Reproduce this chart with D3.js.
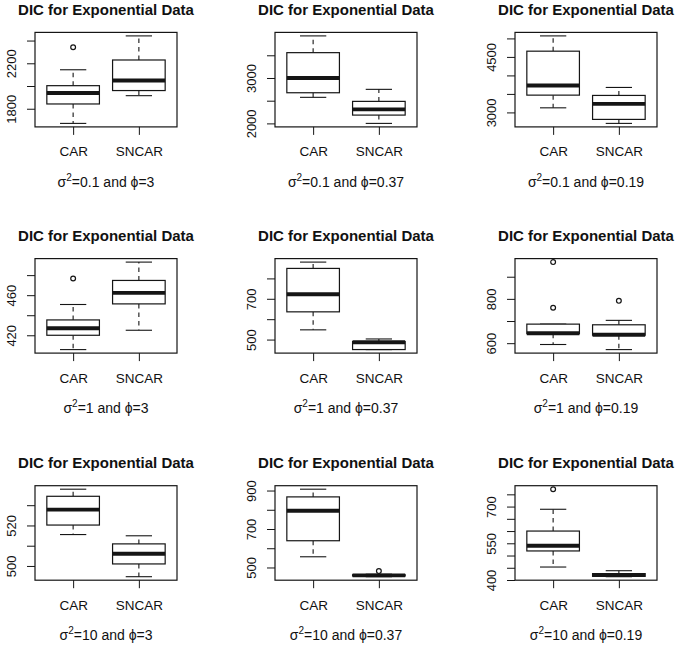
<!DOCTYPE html>
<html>
<head>
<meta charset="utf-8">
<script src="https://cdn.jsdelivr.net/npm/d3@7"></script>
<style>
  html, body { margin: 0; padding: 0; background: #fff; }
  svg text { font-family: "Liberation Sans", Arial, Helvetica, sans-serif; fill: #111; }
</style>
</head>
<body>
<svg id="chart" width="680" height="650"></svg>
<script>
// ---------- data ----------
const groups = ["CAR", "SNCAR"];
const panelTitle = "DIC for Exponential Data";
const sigma2 = ["0.1", "0.1", "0.1", "1", "1", "1", "10", "10", "10"];
const phi    = ["3", "0.37", "0.19", "3", "0.37", "0.19", "3", "0.37", "0.19"];

// [lower whisker, Q1, median, Q3, upper whisker]
const carStats = [
  [1671, 1842, 1939, 2003, 2143],
  [2574, 2675, 3000, 3558, 3927],
  [3124, 3467, 3729, 4655, 5068],
  [405.7, 420, 427, 435.3, 450.7],
  [547.7, 636, 722.6, 849, 880],
  [594, 643, 645, 686, 686],
  [515.5, 520.2, 527.8, 534.4, 537.9],
  [555.6, 639, 795, 867, 907],
  [453, 518.7, 540, 600, 689]
];
const sncarStats = [
  [1915, 1960, 2048, 2229, 2441],
  [2000, 2183, 2309, 2485, 2750],
  [2703, 2811, 3232, 3459, 3675],
  [425, 451.3, 462.3, 474.7, 493],
  [450.8, 451, 487, 490, 503],
  [571, 636, 638, 683, 703],
  [494.7, 501, 506, 510.9, 514.9],
  [452, 456, 459, 462, 465],
  [413.5, 415, 420.5, 426, 438]
];
const carOutliers   = [[2341], [], [], [476.7], [], [760, 966], [], [], [771]];
const sncarOutliers = [[], [], [], [], [], [791], [], [481], []];

const yTicks = [
  [1800, 2000, 2200, 2400],
  [2000, 2500, 3000, 3500],
  [3000, 3500, 4000, 4500, 5000],
  [420, 440, 460, 480],
  [500, 600, 700, 800],
  [600, 700, 800, 900],
  [500, 510, 520, 530],
  [500, 600, 700, 800, 900],
  [400, 450, 500, 550, 600, 650, 700, 750]
];
const yTickLabels = [
  [1800, 2200],
  [2000, 3000],
  [3000, 4500],
  [420, 460],
  [500, 700],
  [600, 800],
  [500, 520],
  [500, 700, 900],
  [400, 550, 700]
];

// ---------- layout ----------
const svg = d3.select("#chart");
const plotW = 142, plotH = 94.5;
const colLeft = [35, 275, 515];
const rowTop = [32.4, 258.6, 485.7];
const ink = "#151515";

for (let i = 0; i < 9; i++) {
  const r = Math.floor(i / 3), c = i % 3;
  const left = colLeft[c], top = rowTop[r];
  const g = svg.append("g").attr("transform", `translate(${left},${top})`);

  const stats = [carStats[i], sncarStats[i]];
  const outs = [carOutliers[i], sncarOutliers[i]];
  const allVals = stats.flat().concat(outs.flat());
  const lo = d3.min(allVals), hi = d3.max(allVals);
  const pad = (hi - lo) * 0.04;

  const y = d3.scaleLinear().domain([lo - pad, hi + pad]).range([plotH, 0]);
  const x = d3.scaleLinear().domain([0.42, 2.58]).range([0, plotW]);
  const bw = x(1.8) - x(1);

  // title
  g.append("text")
    .attr("x", plotW / 2).attr("y", -17.4)
    .attr("text-anchor", "middle")
    .style("font-size", "15px").style("font-weight", "bold")
    .text(panelTitle);

  // boxes
  stats.forEach((s, k) => {
    const cx = x(k + 1);
    const bg = g.append("g");
    bg.append("line").attr("x1", cx).attr("x2", cx)
      .attr("y1", y(s[3])).attr("y2", y(s[4]))
      .attr("stroke", ink).attr("stroke-width", 1.1).attr("stroke-dasharray", "4.5,4");
    bg.append("line").attr("x1", cx).attr("x2", cx)
      .attr("y1", y(s[1])).attr("y2", y(s[0]))
      .attr("stroke", ink).attr("stroke-width", 1.1).attr("stroke-dasharray", "4.5,4");
    [s[0], s[4]].forEach(v => {
      bg.append("line").attr("x1", cx - bw / 4).attr("x2", cx + bw / 4)
        .attr("y1", y(v)).attr("y2", y(v))
        .attr("stroke", ink).attr("stroke-width", 1.1);
    });
    bg.append("rect")
      .attr("x", cx - bw / 2).attr("width", bw)
      .attr("y", y(s[3])).attr("height", Math.max(0.1, y(s[1]) - y(s[3])))
      .attr("fill", "#fff").attr("stroke", ink).attr("stroke-width", 1.2);
    bg.append("line").attr("x1", cx - bw / 2).attr("x2", cx + bw / 2)
      .attr("y1", y(s[2])).attr("y2", y(s[2]))
      .attr("stroke", ink).attr("stroke-width", 3.9);
    outs[k].forEach(v => {
      bg.append("circle").attr("cx", cx).attr("cy", y(v)).attr("r", 2.4)
        .attr("fill", "none").attr("stroke", ink).attr("stroke-width", 1.2);
    });
  });

  // frame
  g.append("rect").attr("x", 0).attr("y", 0).attr("width", plotW).attr("height", plotH)
    .attr("fill", "none").attr("stroke", ink).attr("stroke-width", 1.2);

  // y axis
  const labels = yTickLabels[i];
  const ya = g.append("g").call(
    d3.axisLeft(y).tickValues(yTicks[i]).tickSize(8).tickSizeOuter(0)
      .tickFormat(d => labels.includes(d) ? String(d) : ""));
  ya.select(".domain").remove();
  ya.selectAll("line").attr("stroke", ink).attr("stroke-width", 1);
  ya.selectAll("text")
    .attr("transform", "rotate(-90)")
    .attr("x", 0).attr("y", -19.5).attr("dy", 0)
    .attr("text-anchor", "middle")
    .style("font-size", "13px").attr("fill", ink);

  // x axis
  const xa = g.append("g").attr("transform", `translate(0,${plotH})`).call(
    d3.axisBottom(x).tickValues([1, 2]).tickSize(8).tickSizeOuter(0)
      .tickFormat(d => groups[d - 1]));
  xa.select(".domain").remove();
  xa.selectAll("line").attr("stroke", ink).attr("stroke-width", 1);
  xa.selectAll("text").attr("y", 29.5).attr("dy", 0)
    .style("font-size", "13.5px").attr("fill", ink);

  // subtitle
  const st = g.append("text")
    .attr("x", plotW / 2).attr("y", plotH + 60)
    .attr("text-anchor", "middle")
    .style("font-size", "14px");
  st.append("tspan").text("σ");
  st.append("tspan").attr("dy", -6).style("font-size", "10px").text("2");
  st.append("tspan").attr("dy", 6).text(`=${sigma2[i]} and ϕ=${phi[i]}`);
}
</script>
</body>
</html>
